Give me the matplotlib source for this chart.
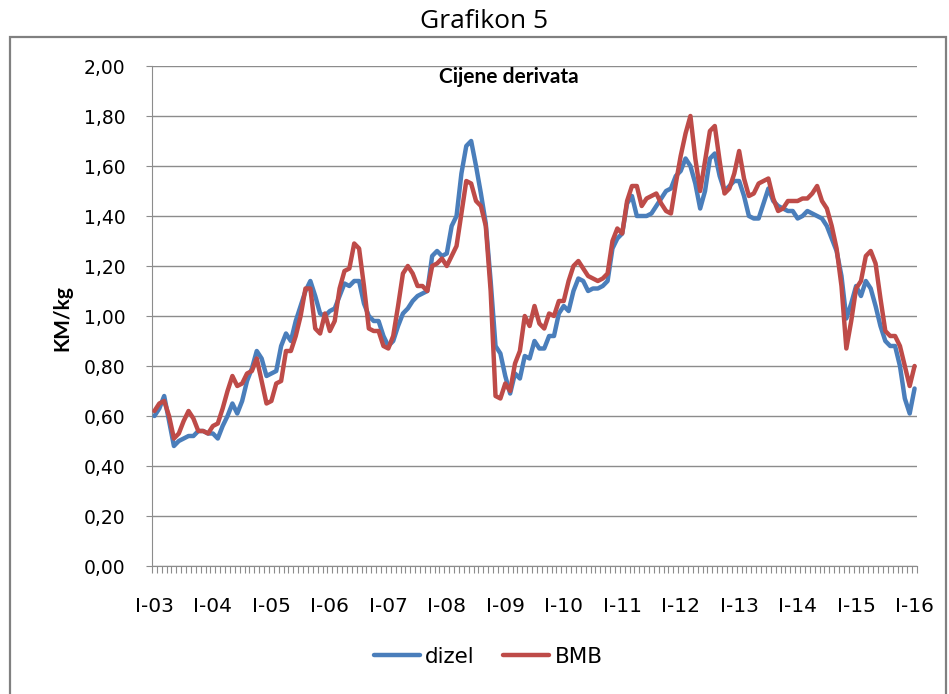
import matplotlib
matplotlib.use('Agg')
import matplotlib.pyplot as plt
import numpy as np
from matplotlib.patches import Rectangle

# Monthly prices, Jan 2003 .. Jan 2016 (KM/kg)
dizel = [
    0.60, 0.63, 0.68, 0.58, 0.48, 0.50, 0.51, 0.52, 0.52, 0.54, 0.54, 0.53,  # 2003
    0.53, 0.51, 0.56, 0.60, 0.65, 0.61, 0.66, 0.74, 0.79, 0.86, 0.83, 0.76,  # 2004
    0.77, 0.78, 0.88, 0.93, 0.90, 0.98, 1.04, 1.10, 1.14, 1.08, 1.01, 1.00,  # 2005
    1.02, 1.03, 1.08, 1.13, 1.12, 1.14, 1.14, 1.05, 1.00, 0.98, 0.98, 0.92,  # 2006
    0.88, 0.90, 0.96, 1.01, 1.03, 1.06, 1.08, 1.09, 1.10, 1.24, 1.26, 1.24,  # 2007
    1.25, 1.36, 1.40, 1.57, 1.68, 1.70, 1.60, 1.49, 1.37, 1.14, 0.88, 0.85,  # 2008
    0.76, 0.69, 0.77, 0.75, 0.84, 0.83, 0.90, 0.87, 0.87, 0.92, 0.92, 1.01,  # 2009
    1.04, 1.02, 1.10, 1.15, 1.14, 1.10, 1.11, 1.11, 1.12, 1.14, 1.27, 1.31,  # 2010
    1.33, 1.45, 1.48, 1.40, 1.40, 1.40, 1.41, 1.44, 1.47, 1.50, 1.51, 1.56,  # 2011
    1.58, 1.63, 1.60, 1.53, 1.43, 1.50, 1.63, 1.65, 1.56, 1.50, 1.52, 1.54,  # 2012
    1.54, 1.48, 1.40, 1.39, 1.39, 1.45, 1.51, 1.46, 1.44, 1.43, 1.42, 1.42,  # 2013
    1.39, 1.40, 1.42, 1.41, 1.40, 1.39, 1.36, 1.31, 1.26, 1.16, 0.99, 1.05,  # 2014
    1.12, 1.08, 1.14, 1.11, 1.04, 0.96, 0.90, 0.88, 0.88, 0.80, 0.67, 0.61,  # 2015
    0.71,                                                                    # 2016
]
bmb = [
    0.62, 0.65, 0.66, 0.60, 0.51, 0.53, 0.58, 0.62, 0.59, 0.54, 0.54, 0.53,  # 2003
    0.56, 0.57, 0.63, 0.70, 0.76, 0.72, 0.73, 0.77, 0.78, 0.83, 0.74, 0.65,  # 2004
    0.66, 0.73, 0.74, 0.86, 0.86, 0.92, 1.00, 1.11, 1.11, 0.95, 0.93, 1.01,  # 2005
    0.94, 0.98, 1.11, 1.18, 1.19, 1.29, 1.27, 1.12, 0.95, 0.94, 0.94, 0.88,  # 2006
    0.87, 0.92, 1.04, 1.17, 1.20, 1.17, 1.12, 1.12, 1.10, 1.20, 1.21, 1.23,  # 2007
    1.20, 1.24, 1.28, 1.41, 1.54, 1.53, 1.46, 1.44, 1.36, 1.10, 0.68, 0.67,  # 2008
    0.73, 0.70, 0.81, 0.86, 1.00, 0.96, 1.04, 0.97, 0.95, 1.01, 1.00, 1.06,  # 2009
    1.06, 1.14, 1.20, 1.22, 1.19, 1.16, 1.15, 1.14, 1.15, 1.17, 1.30, 1.35,  # 2010
    1.33, 1.46, 1.52, 1.52, 1.44, 1.47, 1.48, 1.49, 1.45, 1.42, 1.41, 1.53,  # 2011
    1.64, 1.73, 1.80, 1.63, 1.50, 1.62, 1.74, 1.76, 1.62, 1.49, 1.51, 1.57,  # 2012
    1.66, 1.55, 1.48, 1.49, 1.53, 1.54, 1.55, 1.47, 1.42, 1.43, 1.46, 1.46,  # 2013
    1.46, 1.47, 1.47, 1.49, 1.52, 1.46, 1.43, 1.36, 1.27, 1.12, 0.87, 0.98,  # 2014
    1.11, 1.14, 1.24, 1.26, 1.21, 1.07, 0.94, 0.92, 0.92, 0.88, 0.80, 0.72,  # 2015
    0.80,                                                                    # 2016
]
year_labels = ['I-03', 'I-04', 'I-05', 'I-06', 'I-07', 'I-08', 'I-09',
               'I-10', 'I-11', 'I-12', 'I-13', 'I-14', 'I-15', 'I-16']
y_ticks = [0.0, 0.2, 0.4, 0.6, 0.8, 1.0, 1.2, 1.4, 1.6, 1.8, 2.0]

W, H = 949, 694
fig = plt.figure(figsize=(W / 100, H / 100), dpi=100)
fig.patch.set_facecolor('white')

# outer frame
fig.patches.append(Rectangle((10 / W, -0.05), (946 - 10) / W, (694 - 37) / H + 0.05,
                             transform=fig.transFigure, fill=False,
                             edgecolor='#808080', lw=1.6))

ax = fig.add_axes([152 / W, 1 - 566 / H, (917 - 152) / W, 500 / H])
x = np.arange(len(dizel))
grid_c = '#8c8c8c'
ax.plot(x, dizel, color='#4A7EBB', lw=3.2, solid_joinstyle='round',
        solid_capstyle='round', label='dizel', zorder=3)
ax.plot(x, bmb, color='#BE4B48', lw=3.2, solid_joinstyle='round',
        solid_capstyle='round', label='BMB', zorder=4)

ax.set_xlim(-0.5, len(dizel) - 0.5)
ax.set_ylim(0, 2)
ax.set_yticks(y_ticks)
ax.set_yticklabels([f"{v:.2f}".replace('.', ',') for v in y_ticks],
                   fontsize=13.5, family='DejaVu Sans')
ax.yaxis.grid(True, color=grid_c, lw=1.0)
ax.set_axisbelow(True)
for s in ['top', 'right']:
    ax.spines[s].set_visible(False)
ax.spines['left'].set_color(grid_c)
ax.spines['bottom'].set_color(grid_c)
ax.tick_params(axis='y', length=4, color=grid_c, pad=15)

ax.set_xticks(np.arange(0, len(dizel), 12))
ax.set_xticklabels(year_labels, fontsize=14.5, family='DejaVu Sans')
ax.set_xticks(np.arange(-0.5, len(dizel), 1), minor=True)
ax.tick_params(axis='x', which='major', length=0, pad=22)
ax.tick_params(axis='x', which='minor', length=5, color=grid_c, width=0.8)

fig.text(484 / W, 1 - 22 / H, 'Grafikon 5', ha='center', va='center',
         fontsize=19, family='Open Sans')
fig.text(509 / W, 1 - 77 / H, 'Cijene derivata', ha='center', va='center',
         fontsize=15, family='Lato', fontweight='bold')
fig.text(62 / W, 1 - 318 / H, 'KM/kg', ha='center', va='center', rotation=90,
         fontsize=15, family='Lato', fontweight='bold')

fig.legend(loc='center', bbox_to_anchor=(488 / W, 1 - 657 / H), ncol=2,
           frameon=False, prop={'family': 'DejaVu Sans', 'size': 15.5},
           handlelength=2.15, handletextpad=0.25, columnspacing=1.3)

fig.savefig('out.png', dpi=100)
